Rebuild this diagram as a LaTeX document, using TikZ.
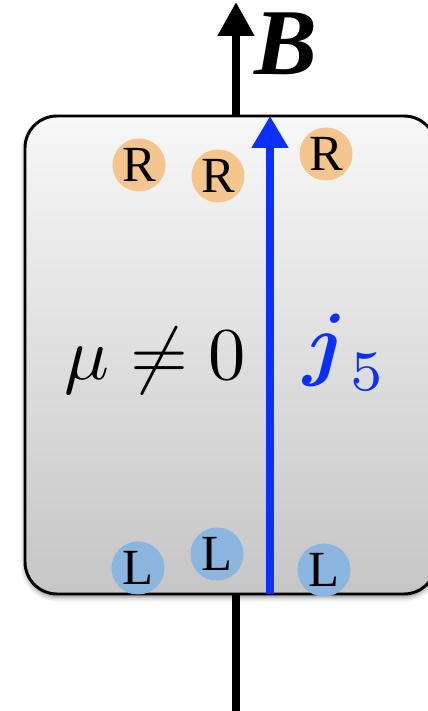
\documentclass[tikz,border=0pt]{standalone}
\usepackage{amsmath}
\usepackage[no-math]{fontspec}
\newfontfamily\timesfont{Liberation Serif}
\usetikzlibrary{arrows.meta, shadows.blur}
\definecolor{rorange}{HTML}{F4C58D}
\definecolor{lblue}{HTML}{89B5DF}
\definecolor{jblue}{HTML}{0A30FF}
\tikzset{
  medium/.style={draw=black, line width=2.1pt, rounded corners=0.8cm,
              top color=gray!6, bottom color=gray!45,
              minimum width=10.275cm, minimum height=11.95cm,
              blur shadow={shadow xshift=0pt, shadow yshift=-0.08cm, shadow blur radius=0.12cm, shadow opacity=45}},
  rdot/.style={circle, fill=rorange, minimum size=1.325cm, inner sep=0pt,
              font=\timesfont\fontsize{36}{36}\selectfont},
  ldot/.style={rdot, fill=lblue},
  bfield/.style={line width=5.5pt, -{Triangle[length=0.85cm, width=0.875cm]}},
  jcurrent/.style={line width=5.8pt, jblue, -{Triangle[length=0.8cm, width=0.875cm]}},
  big/.style={anchor=base, inner sep=0pt},
}
\newcommand{\bigmath}[2][5.3]{\scalebox{#1}{$#2$}}
\begin{document}
\begin{tikzpicture}
  \useasboundingbox (0,0) rectangle (10.675,17.775);
  \coordinate (bbot) at (5.9,0);
  \coordinate (btop) at (5.9,17.725);
  \draw[bfield] (bbot) -- (btop);
  \node[medium] (box) at (5.7625,8.9) {};
  \coordinate (jbot) at (6.75,2.925);
  \coordinate (jtop) at (6.75,14.875);
  \draw[jcurrent] (jbot) -- (jtop);
  \foreach \i/\x/\y in {1/3.475/13.65, 2/5.45/13.375, 3/8.15/13.925}
    \node[rdot] (r\i) at (\x,\y) {R};
  \foreach \i/\x/\y in {1/3.45/3.575, 2/5.425/3.925, 3/8.1/3.525}
    \node[ldot] (l\i) at (\x,\y) {L};
  \node[big] (mu) at (3.89,8.275) {\bigmath{\mu\neq0}};
  \node[big, text=jblue] (j5) at (8.63,8.52) {\bigmath[5.8]{\boldsymbol{j}_{\kern0.4pt 5}}};
  \node[anchor=base, inner sep=0pt, font=\timesfont\bfseries\itshape\fontsize{67}{67}\selectfont] (B) at (7.16,15.9) {B};
\end{tikzpicture}
\end{document}
